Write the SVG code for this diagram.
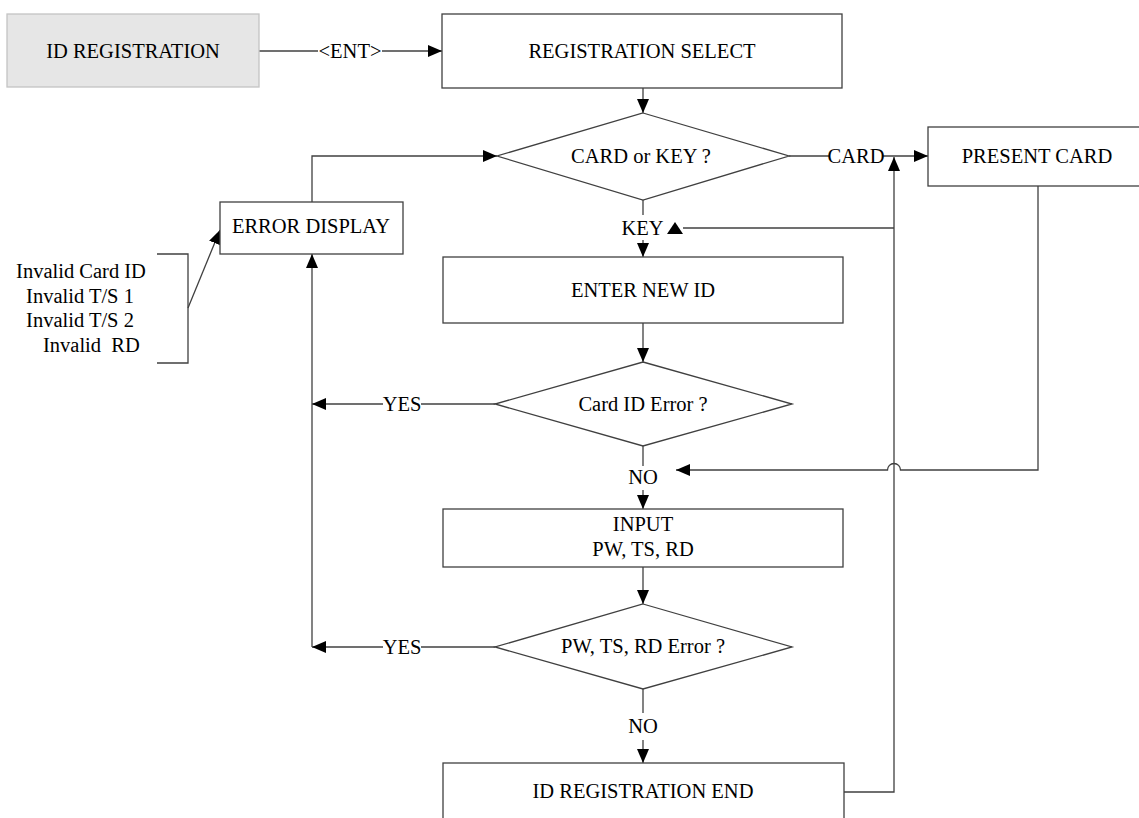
<svg xmlns="http://www.w3.org/2000/svg" width="1139" height="818" viewBox="0 0 1139 818">
  <defs>
    <marker id="arrow" viewBox="0 0 14 12" refX="14" refY="6" markerWidth="14" markerHeight="12" orient="auto" markerUnits="userSpaceOnUse">
      <path d="M0,0 L14,6 L0,12 z" fill="#000"/>
    </marker>
    <style>
      .box { fill: #fff; stroke: #404040; stroke-width: 1.3; }
      .start { fill: #e6e6e6; stroke: #c4c4c4; stroke-width: 1.3; }
      .dec { fill: #fff; stroke: #404040; stroke-width: 1.3; }
      .wire { fill: none; stroke: #404040; stroke-width: 1.3; }
      .arr { marker-end: url(#arrow); }
      text { font-family: "Liberation Serif", "Times New Roman", serif; font-size: 20.5px; fill: #000; }
      .c { text-anchor: middle; }
    </style>
  </defs>

  <!-- connectors -->
  <g id="connectors">
    <line class="wire" x1="259" y1="51" x2="318" y2="51"/>
    <line class="wire arr" x1="382" y1="51" x2="442" y2="51"/>
    <line class="wire arr" x1="643" y1="88" x2="643" y2="113"/>
    <line class="wire" x1="789" y1="156" x2="829" y2="156"/>
    <line class="wire arr" x1="883" y1="156" x2="928" y2="156"/>
    <line class="wire" x1="643" y1="199" x2="643" y2="215"/>
    <line class="wire arr" x1="643" y1="240" x2="643" y2="257"/>
    <line class="wire" x1="894" y1="228" x2="683" y2="228"/>
    <polygon points="667,234 683,234 675,222" fill="#000"/>
    <line class="wire arr" x1="643" y1="323" x2="643" y2="362"/>
    <line class="wire" x1="495" y1="404" x2="421" y2="404"/>
    <line class="wire arr" x1="383" y1="404" x2="312" y2="404"/>
    <line class="wire" x1="643" y1="446" x2="643" y2="466"/>
    <line class="wire arr" x1="643" y1="490" x2="643" y2="509"/>
    <path class="wire arr" d="M1038,186 V470 H900.5 A6.5,6.5 0 0 0 887.5,470 H676"/>
    <line class="wire arr" x1="643" y1="567" x2="643" y2="604"/>
    <line class="wire" x1="495" y1="647" x2="421" y2="647"/>
    <line class="wire arr" x1="383" y1="647" x2="312" y2="647"/>
    <line class="wire arr" x1="312" y1="647" x2="312" y2="254"/>
    <line class="wire" x1="643" y1="689" x2="643" y2="713"/>
    <line class="wire arr" x1="643" y1="740" x2="643" y2="763"/>
    <path class="wire arr" d="M844,792 H894 V157"/>
    <path class="wire arr" d="M312,202 V156 H497"/>
    <path class="wire" d="M157,254 H188 V363 H157"/>
    <line class="wire arr" x1="188" y1="308" x2="220" y2="230"/>
    <text class="c" x="350" y="58">&lt;ENT&gt;</text>
    <text class="c" x="856" y="163">CARD</text>
    <text class="c" x="642.5" y="235">KEY</text>
    <text class="c" x="402" y="411">YES</text>
    <text class="c" x="643" y="484">NO</text>
    <text class="c" x="402" y="654">YES</text>
    <text class="c" x="643" y="733">NO</text>
  </g>

  <g id="id-registration">
    <rect class="start" x="7" y="14" width="252" height="73"/>
    <text class="c" x="133" y="58">ID REGISTRATION</text>
  </g>

  <g id="registration-select">
    <rect class="box" x="442" y="14" width="400" height="74"/>
    <text class="c" x="642" y="58">REGISTRATION SELECT</text>
  </g>

  <g id="card-or-key">
    <polygon class="dec" points="643,113 789,156 643,200 497,156"/>
    <text class="c" x="641" y="163">CARD or KEY ?</text>
  </g>

  <g id="present-card">
    <rect class="box" x="928" y="127" width="220" height="59"/>
    <text class="c" x="1037" y="163">PRESENT CARD</text>
  </g>

  <g id="error-display">
    <rect class="box" x="220" y="202" width="183" height="52"/>
    <text class="c" x="311" y="233">ERROR DISPLAY</text>
  </g>

  <g id="error-causes">
    <text class="c" x="81" y="278">Invalid Card ID</text>
    <text class="c" x="80" y="303">Invalid T/S 1</text>
    <text class="c" x="80" y="327">Invalid T/S 2</text>
    <text x="43" y="352" xml:space="preserve">Invalid  RD</text>
  </g>

  <g id="enter-new-id">
    <rect class="box" x="443" y="257" width="400" height="66"/>
    <text class="c" x="643" y="297">ENTER NEW ID</text>
  </g>

  <g id="card-id-error">
    <polygon class="dec" points="643,362 792,404 643,446 495,404"/>
    <text class="c" x="643" y="411">Card ID Error ?</text>
  </g>

  <g id="input">
    <rect class="box" x="443" y="509" width="400" height="58"/>
    <text class="c" x="643" y="531">INPUT</text>
    <text class="c" x="643" y="556">PW, TS, RD</text>
  </g>

  <g id="pw-ts-rd-error">
    <polygon class="dec" points="643,604 792,647 643,689 495,647"/>
    <text class="c" x="643" y="653">PW, TS, RD Error ?</text>
  </g>

  <g id="registration-end">
    <rect class="box" x="443" y="763" width="401" height="70"/>
    <text class="c" x="643" y="798">ID REGISTRATION END</text>
  </g>
</svg>
